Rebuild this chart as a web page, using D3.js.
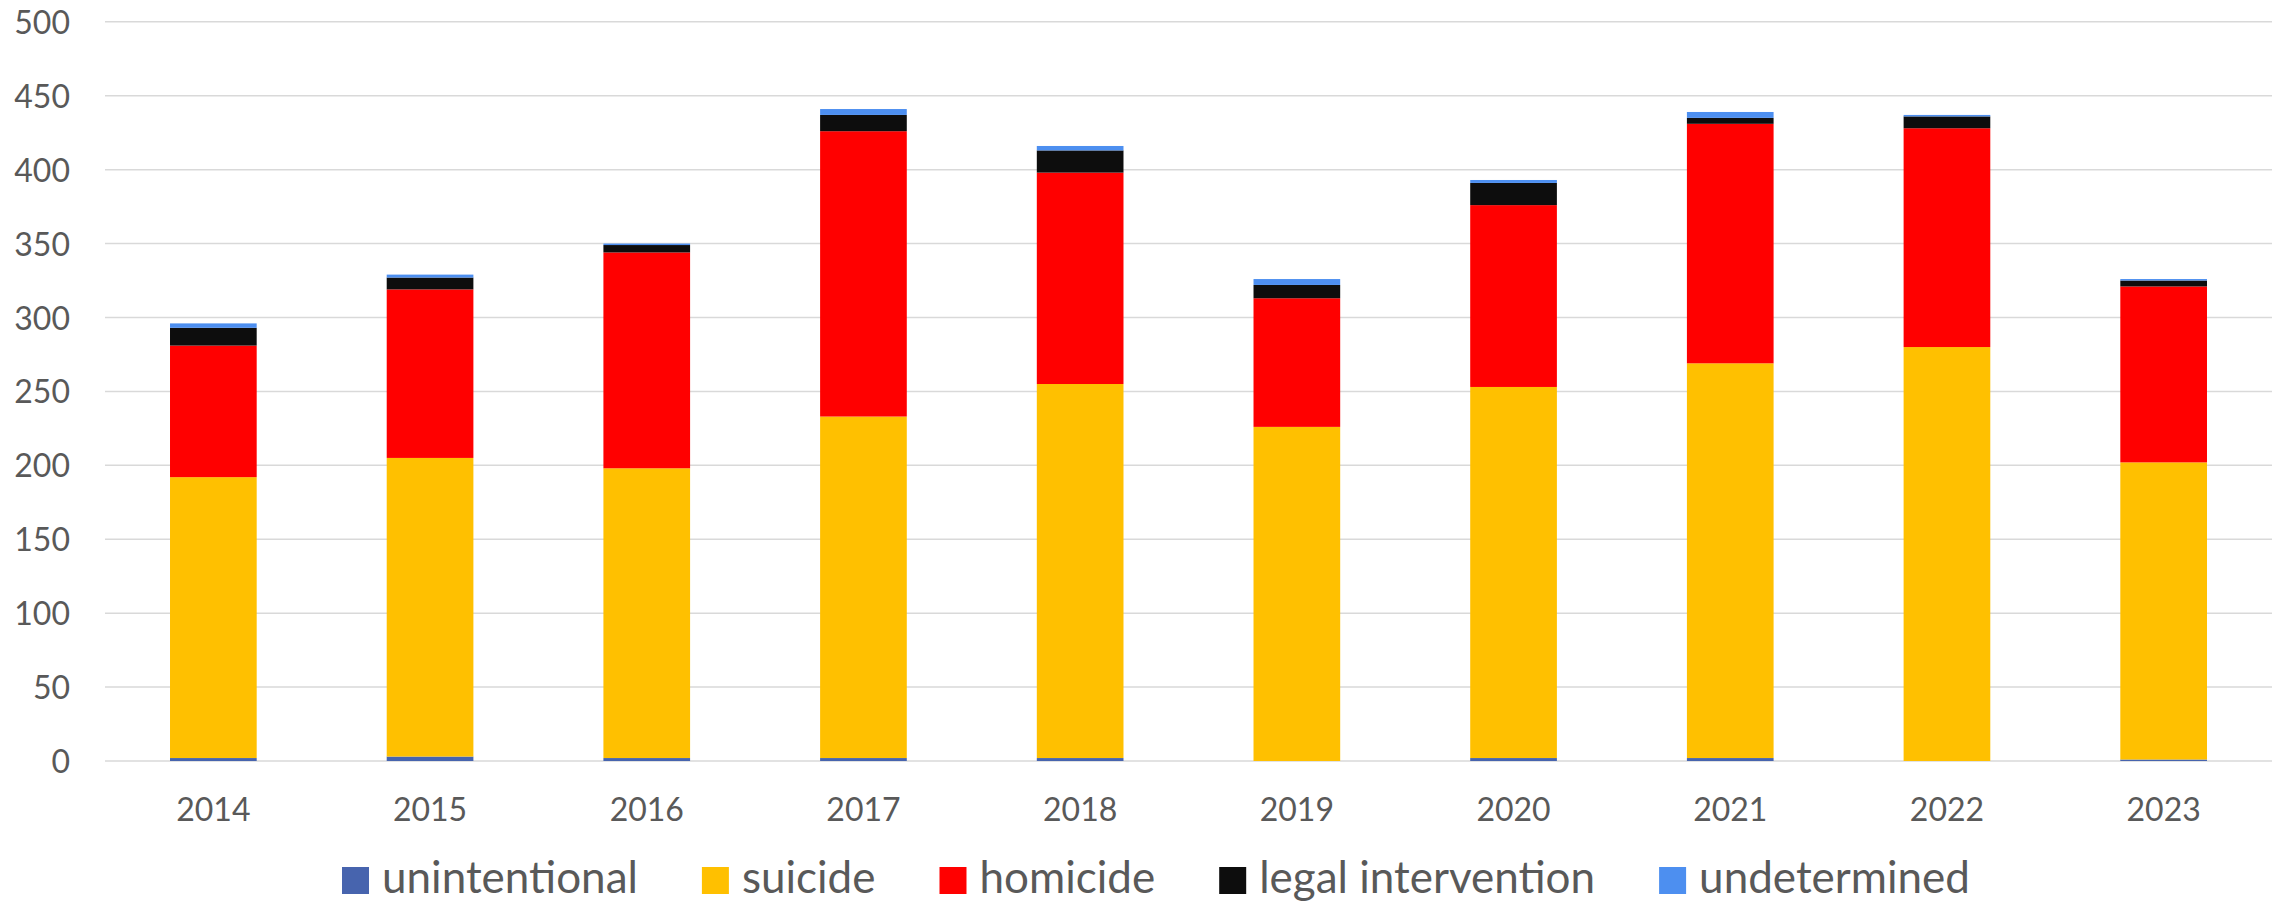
<!DOCTYPE html>
<html>
<head>
<meta charset="utf-8">
<script src="https://cdn.jsdelivr.net/npm/d3@7"></script>
<style>
  html, body { margin: 0; padding: 0; background: #ffffff; }
  svg { display: block; }
</style>
</head>
<body>
<svg id="chart" width="2285" height="907"></svg>
<script>
// Firearm deaths by intent, stacked per year
const years = ["2014", "2015", "2016", "2017", "2018", "2019", "2020", "2021", "2022", "2023"];
const unintentional      = [2, 3, 2, 2, 2, 0, 2, 2, 0, 1];
const suicide            = [190, 202, 196, 231, 253, 226, 251, 267, 280, 201];
const homicide           = [89, 114, 146, 193, 143, 87, 123, 162, 148, 119];
const legalIntervention  = [12, 8, 5, 11, 15, 9, 15, 4, 8, 4];
const undetermined       = [3, 2, 1, 4, 3, 4, 2, 4, 1, 1];
const yTicks = [0, 50, 100, 150, 200, 250, 300, 350, 400, 450, 500];

const seriesNames  = ["unintentional", "suicide", "homicide", "legal intervention", "undetermined"];
const seriesValues = [unintentional, suicide, homicide, legalIntervention, undetermined];
const seriesColors = ["#4764ae", "#ffc000", "#ff0000", "#0d0d0d", "#4d8ff0"];

const rows = years.map((yr, i) => {
  const r = { year: yr };
  seriesNames.forEach((n, k) => { r[n] = seriesValues[k][i]; });
  return r;
});
const stacked = d3.stack().keys(seriesNames)(rows);

const svg = d3.select("#chart");
const plotLeft = 105, plotRight = 2272, plotTop = 21.8, plotBottom = 761;
const textColor = "#595959";
const font = "Lato, 'Open Sans', sans-serif";

const x = d3.scaleBand().domain(years).range([plotLeft, plotRight]).paddingInner(0.6).paddingOuter(0.3);
const y = d3.scaleLinear().domain([0, 500]).range([plotBottom, plotTop]);

// horizontal gridlines
svg.append("g")
  .selectAll("line")
  .data(yTicks)
  .join("line")
  .attr("x1", plotLeft).attr("x2", plotRight)
  .attr("y1", d => y(d)).attr("y2", d => y(d))
  .attr("stroke", "#d9d9d9")
  .attr("stroke-width", 1.5);

// y axis labels
const yAxis = d3.axisLeft(y).tickValues(yTicks).tickSize(0).tickPadding(0);
const gy = svg.append("g").attr("transform", `translate(${plotLeft - 35},0)`).call(yAxis);
gy.select(".domain").remove();
gy.selectAll("text")
  .attr("fill", textColor)
  .style("font-family", font)
  .style("font-size", "32px")
  .attr("dy", "0.36em");

// x axis labels
const xAxis = d3.axisBottom(x).tickSize(0).tickPadding(0);
const gx = svg.append("g").attr("transform", `translate(0,${plotBottom + 37})`).call(xAxis);
gx.select(".domain").remove();
gx.selectAll("text")
  .attr("fill", textColor)
  .style("font-family", font)
  .style("font-size", "32px")
  .attr("dy", "0.72em");

// stacked bars
svg.append("g")
  .selectAll("g")
  .data(stacked)
  .join("g")
  .attr("fill", (d, i) => seriesColors[i])
  .selectAll("rect")
  .data(d => d)
  .join("rect")
  .attr("x", d => x(d.data.year))
  .attr("width", x.bandwidth())
  .attr("y", d => y(d[1]))
  .attr("height", d => Math.max(0, y(d[0]) - y(d[1])));

// legend along the bottom edge
const legend = svg.append("g");
const items = legend.selectAll("g")
  .data(seriesNames)
  .join("g");
items.append("rect")
  .attr("width", 27).attr("height", 27)
  .attr("y", 867)
  .attr("fill", (d, i) => seriesColors[i]);
items.append("text")
  .attr("x", 40)
  .attr("y", 893)
  .attr("fill", textColor)
  .style("font-family", font)
  .style("font-size", "44px")
  .text(d => d);

let cursor = 0;
const widths = [];
items.each(function () {
  const w = 40 + d3.select(this).select("text").node().getComputedTextLength();
  widths.push(w);
});
items.attr("transform", (d, i) => {
  const t = `translate(${cursor},0)`;
  cursor += widths[i] + 64;
  return t;
});
const total = cursor - 64;
legend.attr("transform", `translate(${1156 - total / 2},0)`);
</script>
</body>
</html>
